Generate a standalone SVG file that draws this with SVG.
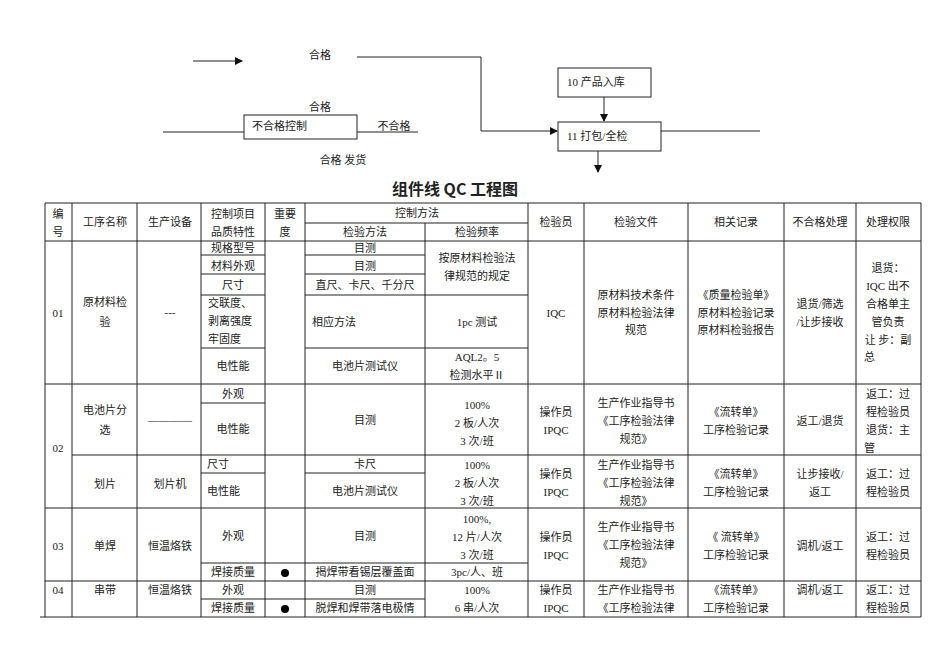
<svg xmlns="http://www.w3.org/2000/svg" width="950" height="672" viewBox="0 0 950 672">
<style>
text{font-family:"Liberation Serif","Noto Sans CJK SC",serif;font-size:11px;fill:#222;dominant-baseline:central;text-anchor:middle}
.l{text-anchor:start}
.t{font-family:"Noto Sans CJK SC",sans-serif;font-size:16px;font-weight:bold}
line,path,rect{stroke:#222;stroke-width:1;fill:none}
path.h{fill:#111;stroke:none}
rect.bg{fill:#fff;stroke:none}
</style>
<defs><marker id="a" markerWidth="8" markerHeight="8" refX="7" refY="4" orient="auto" markerUnits="userSpaceOnUse"><path class="h" d="M0,0 L8,4 L0,8 Z"/></marker></defs>
<rect class="bg" width="950" height="672"/>
<g id="connectors">
<line x1="193" y1="61" x2="242" y2="61" marker-end="url(#a)"/>
<path d="M357,57 H481 V131 H557" marker-end="url(#a)"/>
<line x1="604" y1="97" x2="604" y2="121" marker-end="url(#a)"/>
<line x1="661" y1="131" x2="760" y2="131"/>
<line x1="598" y1="151" x2="598" y2="172" marker-end="url(#a)"/>
<line x1="163" y1="132" x2="244" y2="132"/>
<line x1="357" y1="132" x2="418" y2="132"/>
</g>
<g id="n10"><rect x="558" y="68" width="93" height="29"/><text x="567" y="82" class="l">10 产品入库</text></g>
<g id="n11"><rect x="558" y="122" width="103" height="29"/><text x="567" y="136" class="l">11 打包/全检</text></g>
<g id="nbad"><rect x="244" y="115" width="113" height="24"/><text x="252" y="126" class="l">不合格控制</text></g>
<g id="labels">
<text x="320" y="55">合格</text><text x="320" y="107">合格</text><text x="394" y="126">不合格</text><text x="343" y="160">合格 发货</text>
<text x="455" y="188" class="t">组件线 QC 工程图</text>
</g>
<g id="table">
<line x1="45" y1="203" x2="921" y2="203"/>
<line x1="305" y1="223" x2="528" y2="223"/>
<line x1="45" y1="241" x2="921" y2="241"/>
<line x1="201" y1="255" x2="265" y2="255"/><line x1="305" y1="255" x2="425" y2="255"/>
<line x1="201" y1="274" x2="265" y2="274"/><line x1="305" y1="274" x2="425" y2="274"/>
<line x1="201" y1="295" x2="265" y2="295"/><line x1="305" y1="295" x2="528" y2="295"/>
<line x1="201" y1="348" x2="265" y2="348"/><line x1="305" y1="348" x2="528" y2="348"/>
<line x1="45" y1="384" x2="921" y2="384"/>
<line x1="201" y1="403" x2="265" y2="403"/>
<line x1="72" y1="455" x2="921" y2="455"/>
<line x1="201" y1="473" x2="265" y2="473"/><line x1="305" y1="473" x2="425" y2="473"/>
<line x1="45" y1="508" x2="921" y2="508"/>
<line x1="201" y1="563" x2="528" y2="563"/>
<line x1="45" y1="581" x2="921" y2="581"/>
<line x1="201" y1="599" x2="425" y2="599"/>
<line x1="40" y1="617" x2="921" y2="617"/>
<line x1="45" y1="203" x2="45" y2="617"/><line x1="72" y1="203" x2="72" y2="617"/>
<line x1="137" y1="203" x2="137" y2="617"/><line x1="201" y1="203" x2="201" y2="617"/>
<line x1="265" y1="203" x2="265" y2="617"/><line x1="305" y1="203" x2="305" y2="617"/>
<line x1="425" y1="223" x2="425" y2="617"/><line x1="528" y1="203" x2="528" y2="617"/>
<line x1="584" y1="203" x2="584" y2="617"/><line x1="688" y1="203" x2="688" y2="617"/>
<line x1="784" y1="203" x2="784" y2="617"/><line x1="856" y1="203" x2="856" y2="617"/>
<line x1="921" y1="203" x2="921" y2="617"/>
<circle cx="285" cy="573" r="4" fill="#000"/><circle cx="285" cy="609" r="4" fill="#000"/>
</g>
<g id="texts">
<text x="58" y="214">编</text><text x="58" y="232">号</text><text x="105" y="222">工序名称</text><text x="170" y="222">生产设备</text>
<text x="233" y="214">控制项目</text><text x="233" y="232">品质特性</text><text x="285" y="214">重要</text><text x="285" y="232">度</text>
<text x="417" y="213">控制方法</text><text x="365" y="232">检验方法</text><text x="477" y="232">检验频率</text>
<text x="556" y="222">检验员</text><text x="636" y="222">检验文件</text><text x="736" y="222">相关记录</text><text x="820" y="222">不合格处理</text><text x="888" y="222">处理权限</text>

<text x="58" y="313">01</text><text x="105" y="302">原材料检</text><text x="105" y="322">验</text><text x="170" y="312">---</text>
<text x="233" y="248">规格型号</text><text x="233" y="266">材料外观</text><text x="233" y="285">尺寸</text>
<text x="208" y="303" class="l">交联度、</text><text x="208" y="321" class="l">剥离强度</text><text x="208" y="339" class="l">牢固度</text><text x="233" y="366">电性能</text>
<text x="365" y="248">目测</text><text x="365" y="266">目测</text><text x="365" y="285">直尺、卡尺、千分尺</text><text x="312" y="322" class="l">相应方法</text><text x="365" y="366">电池片测试仪</text>
<text x="477" y="258">按原材料检验法</text><text x="477" y="276">律规范的规定</text><text x="477" y="322">1pc 测试</text><text x="477" y="357">AQL2。5</text><text x="477" y="375">检测水平Ⅱ</text>
<text x="556" y="313">IQC</text>
<text x="636" y="295">原材料技术条件</text><text x="636" y="313">原材料检验法律</text><text x="636" y="330">规范</text>
<text x="736" y="295">《质量检验单》</text><text x="736" y="313">原材料检验记录</text><text x="736" y="330">原材料检验报告</text>
<text x="820" y="304">退货/筛选</text><text x="820" y="322">/让步接收</text>
<text x="888" y="268">退货：</text><text x="888" y="286">IQC 出不</text><text x="888" y="304">合格单主</text><text x="888" y="322">管负责</text><text x="888" y="340">让 步：副</text><text x="864" y="357" class="l">总</text>

<text x="58" y="448">02</text><text x="105" y="410">电池片分</text><text x="105" y="430">选</text><text x="170" y="420">————</text>
<text x="233" y="394">外观</text><text x="233" y="429">电性能</text><text x="365" y="420">目测</text>
<text x="477" y="405">100%</text><text x="477" y="423">2 板/人次</text><text x="477" y="441">3 次/班</text>
<text x="556" y="412">操作员</text><text x="556" y="430">IPQC</text>
<text x="636" y="403">生产作业指导书</text><text x="636" y="421">《工序检验法律</text><text x="636" y="439">规范》</text>
<text x="736" y="412">《流转单》</text><text x="736" y="430">工序检验记录</text><text x="820" y="421">返工/退货</text>
<text x="888" y="394">返工：过</text><text x="888" y="412">程检验员</text><text x="888" y="430">退货：主</text><text x="864" y="448" class="l">管</text>

<text x="105" y="484">划片</text><text x="170" y="484">划片机</text><text x="207" y="464" class="l">尺寸</text><text x="207" y="491" class="l">电性能</text>
<text x="365" y="464">卡尺</text><text x="365" y="491">电池片测试仪</text>
<text x="477" y="465">100%</text><text x="477" y="483">2 板/人次</text><text x="477" y="501">3 次/班</text>
<text x="556" y="474">操作员</text><text x="556" y="492">IPQC</text>
<text x="636" y="465">生产作业指导书</text><text x="636" y="483">《工序检验法律</text><text x="636" y="501">规范》</text>
<text x="736" y="474">《流转单》</text><text x="736" y="492">工序检验记录</text><text x="820" y="474">让步接收/</text><text x="820" y="492">返工</text>
<text x="888" y="474">返工：过</text><text x="888" y="492">程检验员</text>

<text x="58" y="546">03</text><text x="105" y="546">单焊</text><text x="170" y="546">恒温烙铁</text>
<text x="233" y="536">外观</text><text x="233" y="572">焊接质量</text><text x="365" y="536">目测</text><text x="365" y="572">揭焊带看锡层覆盖面</text>
<text x="477" y="519">100%,</text><text x="477" y="537">12 片/人次</text><text x="477" y="555">3 次/班</text><text x="477" y="572">3pc/人、班</text>
<text x="556" y="537">操作员</text><text x="556" y="555">IPQC</text>
<text x="636" y="527">生产作业指导书</text><text x="636" y="545">《工序检验法律</text><text x="636" y="563">规范》</text>
<text x="736" y="537">《 流转单》</text><text x="736" y="555">工序检验记录</text><text x="820" y="546">调机/返工</text>
<text x="888" y="537">返工：过</text><text x="888" y="555">程检验员</text>

<text x="58" y="590">04</text><text x="105" y="590">串带</text><text x="170" y="590">恒温烙铁</text>
<text x="233" y="590">外观</text><text x="233" y="608">焊接质量</text><text x="365" y="590">目测</text><text x="365" y="608">脱焊和焊带落电极情</text>
<text x="477" y="590">100%</text><text x="477" y="608">6 串/人次</text>
<text x="556" y="590">操作员</text><text x="556" y="608">IPQC</text>
<text x="636" y="590">生产作业指导书</text><text x="636" y="608">《工序检验法律</text>
<text x="736" y="590">《流转单》</text><text x="736" y="608">工序检验记录</text><text x="820" y="590">调机/返工</text>
<text x="888" y="590">返工：过</text><text x="888" y="608">程检验员</text>
</g>
</svg>
